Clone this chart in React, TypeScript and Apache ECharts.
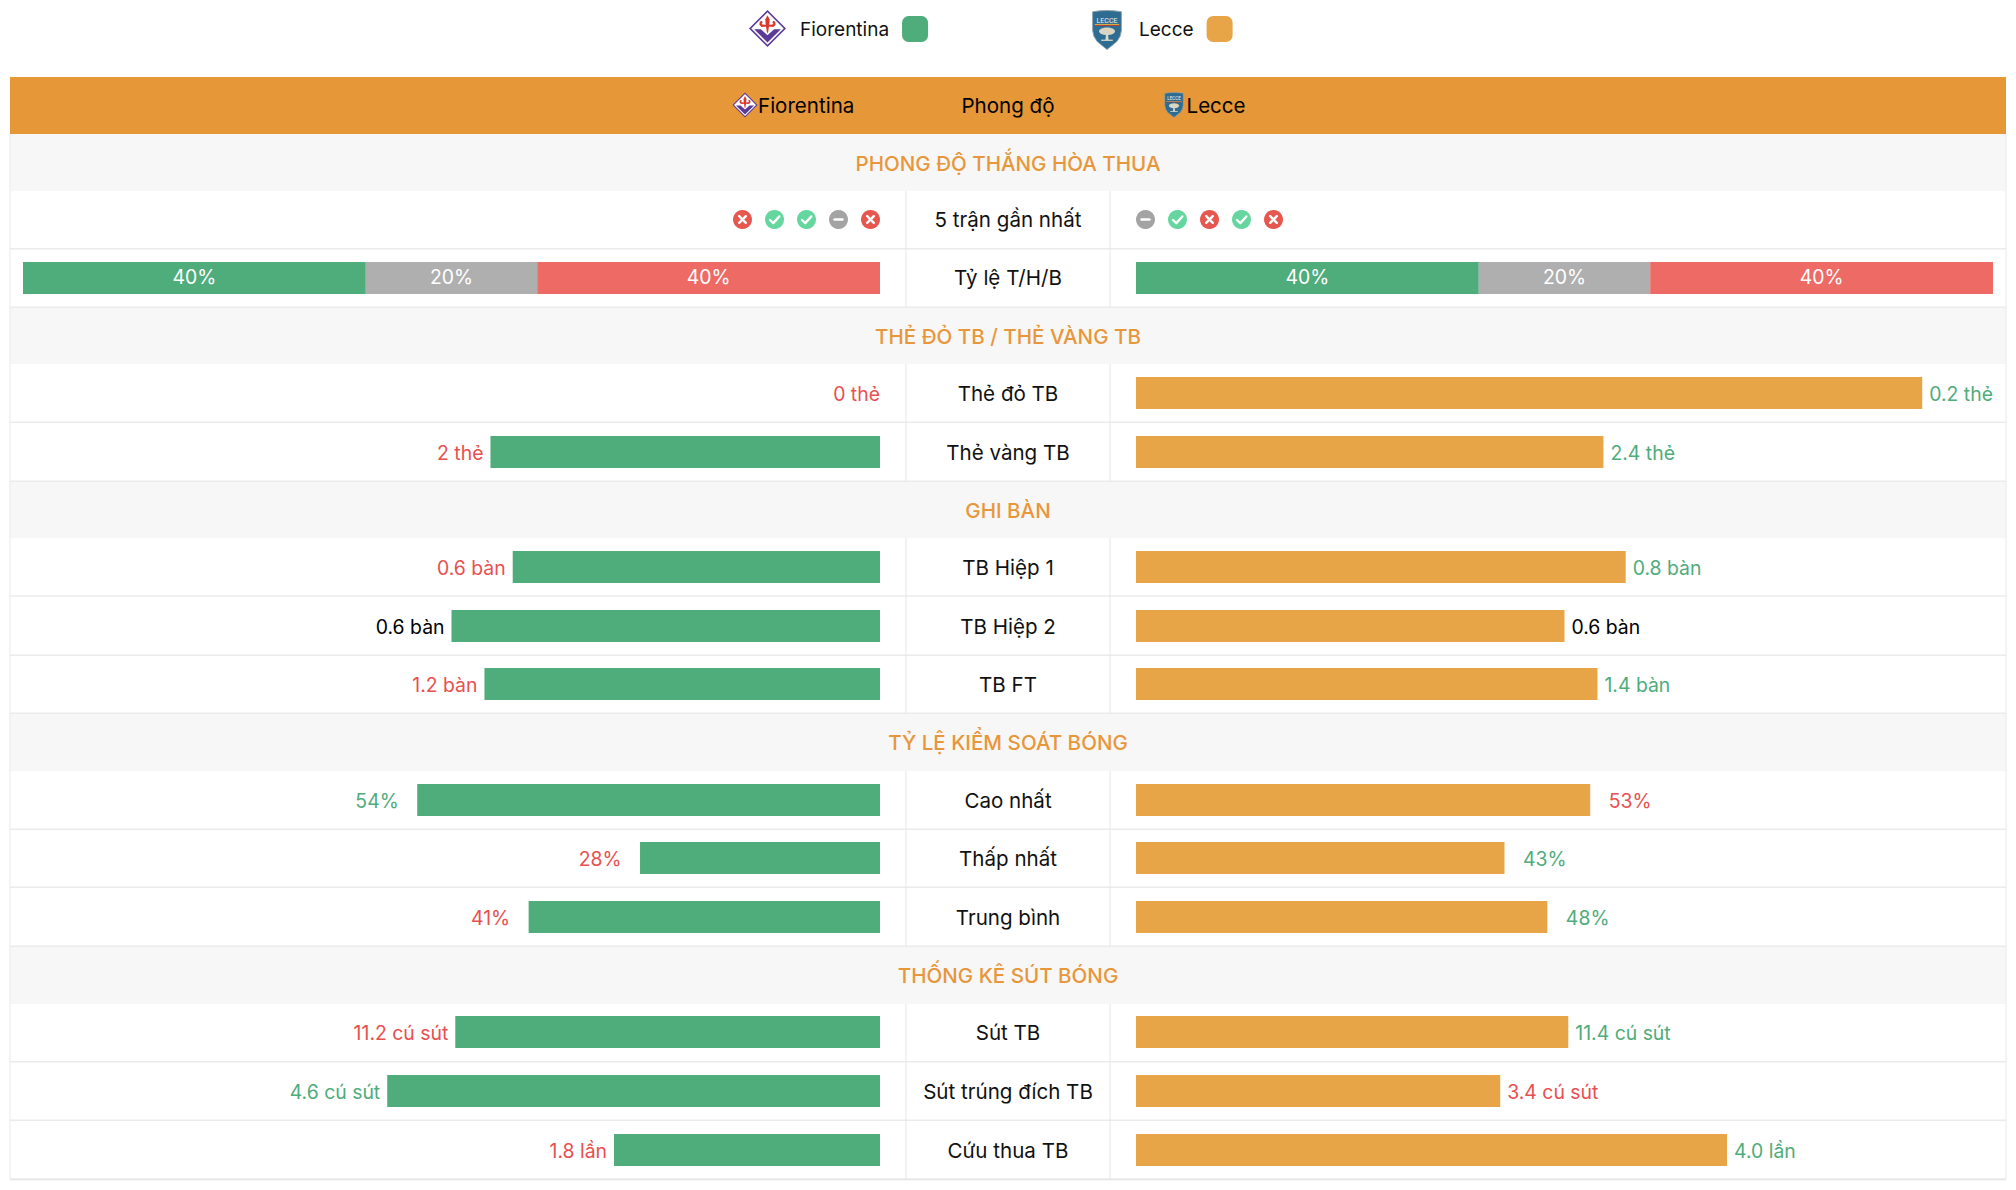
import React, { useEffect, useRef } from "react";
import * as echarts from "echarts";

const HOME = "Fiorentina";
const AWAY = "Lecce";
const FONT = "Inter";
const GREEN = "#4FAC7B";
const ORANGE = "#E8A548";
const TEXT_RED = "#E8504F";

const sectionTitles = ["PHONG ĐỘ THẮNG HÒA THUA", "THẺ ĐỎ TB / THẺ VÀNG TB", "GHI BÀN", "TỶ LỆ KIỂM SOÁT BÓNG", "THỐNG KÊ SÚT BÓNG"];
const formRowName = "5 trận gần nhất";
const ratioRowName = "Tỷ lệ T/H/B";
const homeForm = ["L", "W", "W", "D", "L"];
const awayForm = ["D", "W", "L", "W", "L"];
const homeRatio = [40, 20, 40];
const awayRatio = [40, 20, 40];
const ratioNames = ["Thắng", "Hòa", "Thua"];
const ratioColors = ["#4FAC7B", "#AFAFAF", "#EE6A65"];

const rowNames = ["Thẻ đỏ TB", "Thẻ vàng TB", "TB Hiệp 1", "TB Hiệp 2", "TB FT", "Cao nhất", "Thấp nhất", "Trung bình", "Sút TB", "Sút trúng đích TB", "Cứu thua TB"];
const homeValues = [0, 2, 0.6, 0.6, 1.2, 54, 28, 41, 11.2, 4.6, 1.8];
const awayValues = [0.2, 2.4, 0.8, 0.6, 1.4, 53, 43, 48, 11.4, 3.4, 4.0];
const axisTotals = [0.218, 4.4, 1.4, 1.2, 2.6, 100, 100, 100, 22.6, 8, 5.8];
const homeLabels = ["0 thẻ", "2 thẻ", "0.6 bàn", "0.6 bàn", "1.2 bàn", "54%", "28%", "41%", "11.2 cú sút", "4.6 cú sút", "1.8 lần"];
const awayLabels = ["0.2 thẻ", "2.4 thẻ", "0.8 bàn", "0.6 bàn", "1.4 bàn", "53%", "43%", "48%", "11.4 cú sút", "3.4 cú sút", "4.0 lần"];
const homeLabelColors = [TEXT_RED, TEXT_RED, TEXT_RED, "#000", TEXT_RED, GREEN, TEXT_RED, TEXT_RED, TEXT_RED, GREEN, TEXT_RED];
const awayLabelColors = [GREEN, GREEN, GREEN, "#000", GREEN, TEXT_RED, GREEN, GREEN, GREEN, TEXT_RED, GREEN];
const labelGaps = [7, 7, 7, 7, 7, 18.5, 18.5, 18.5, 7, 7, 7];

// layout (pixels)
const L_X = 23, R_X = 1136, BAR_W = 857, BAR_H = 32;
const CENTER = 1008;
const TBL_L = 10, TBL_R = 2006, COL_L = 906, COL_R = 1110;
const sectionSpans = [[134, 191], [307.3, 364], [481.3, 538], [713.3, 771], [946.3, 1004]];
const rowLines = [248.7, 307.3, 422.3, 481.3, 596, 655.3, 713.3, 829.3, 887.3, 946.3, 1061.7, 1120.3];
const ratioBarTop = 262;
const barTops = [377, 436, 551, 610, 668, 784, 842, 901, 1016, 1075, 1134];
const formY = 219.5;
const LABEL_SIZE = 19.4;
const TEXT_SIZE = 20.57;

function fiorentinaLogo(cx: number, cy: number, half: number) {
  const s = half / 50;
  const purple = "#5B3A96", red = "#D8392F";
  const mirror = (pts: number[][]) => pts.map(([x, y]) => [100 - x, y]);
  const sidePetal = [[43, 44], [34, 46], [28, 40], [29, 32], [34, 29], [37, 33], [34, 38], [38, 40], [43, 40]];
  return {
    type: "group", x: cx - half, y: cy - half, scaleX: s, scaleY: s,
    children: [
      { type: "polygon", shape: { points: [[50, 0], [100, 50], [50, 100], [0, 50]] }, style: { fill: purple } },
      { type: "polygon", shape: { points: [[50, 6], [94, 50], [50, 94], [6, 50]] }, style: { fill: "#fff" } },
      { type: "polygon", shape: { points: [[14, 52], [32, 52], [50, 68], [68, 52], [86, 52], [50, 88]] }, style: { fill: purple } },
      { type: "polygon", shape: { points: [[50, 14], [56, 26], [55, 38], [52, 58], [50, 64], [48, 58], [45, 38], [44, 26]] }, style: { fill: red } },
      { type: "rect", shape: { x: 36, y: 40, width: 28, height: 5 }, style: { fill: red } },
      { type: "polygon", shape: { points: sidePetal }, style: { fill: red } },
      { type: "polygon", shape: { points: mirror(sidePetal) }, style: { fill: red } },
    ],
  };
}

function lecceLogo(cx: number, cy: number, h: number) {
  const s = h / 122;
  const w = 90;
  const px = (f: number) => 50 + (f - 50) * (w / 100);
  const shield = [[0, 4], [25, 1], [50, 0], [75, 1], [100, 4], [100, 62], [96, 80], [85, 96], [68, 109], [50, 122], [32, 109], [15, 96], [4, 80], [0, 62]].map(([x, y]) => [px(x), y]);
  return {
    type: "group", x: cx - 50 * s, y: cy - h / 2, scaleX: s, scaleY: s,
    children: [
      { type: "polygon", shape: { points: shield }, style: { fill: "#2E6C92", stroke: "#8FA3AE", lineWidth: 3 } },
      { type: "text", x: 50, y: 31, style: { text: "LECCE", font: "22px Roboto", fill: "#F2F2EC", align: "center", verticalAlign: "middle" } },
      { type: "rect", shape: { x: 12, y: 42, width: 76, height: 3 }, style: { fill: "#E8C53A" } },
      { type: "rect", shape: { x: 12, y: 45, width: 76, height: 3 }, style: { fill: "#C8392F" } },
      { type: "ellipse", shape: { cx: 50, cy: 65, rx: 25, ry: 12 }, style: { fill: "#D9D5C2" } },
      { type: "polygon", shape: { points: [[47, 72], [53, 72], [55, 92], [45, 92]] }, style: { fill: "#DCD8C8" } },
      { type: "rect", shape: { x: 32, y: 91, width: 36, height: 4 }, style: { fill: "#DCD8C8" } },
    ],
  };
}

function centerText(text: string, y: number, extra: object = {}) {
  return { type: "text", x: CENTER, y, style: { text, font: `${TEXT_SIZE}px ${FONT}`, fill: "#111", align: "center", verticalAlign: "middle", ...extra } };
}

function buildGraphics() {
  const g: any[] = [];
  g.push({ type: "rect", shape: { x: TBL_L, y: 77, width: TBL_R - TBL_L, height: 57 }, style: { fill: "#E69737" } });
  sectionSpans.forEach(([a, b], i) => {
    g.push({ type: "rect", shape: { x: TBL_L, y: a, width: TBL_R - TBL_L, height: b - a }, style: { fill: "#F7F7F7" } });
    g.push(centerText(sectionTitles[i], (a + b) / 2 + 0.6, { font: `500 ${TEXT_SIZE}px ${FONT}`, fill: "#E8963A" }));
  });
  rowLines.forEach((y) => {
    g.push({ type: "rect", shape: { x: TBL_L, y: y - 0.7, width: TBL_R - TBL_L, height: 1.4 }, style: { fill: "#EBEBEB" } });
  });
  g.push({ type: "rect", shape: { x: TBL_L, y: 1178.5, width: TBL_R - TBL_L, height: 1.7 }, style: { fill: "#E4E4E4" } });
  g.push({ type: "rect", shape: { x: TBL_L - 0.5, y: 134, width: 1, height: 1045 }, style: { fill: "#EAEAEA" } });
  g.push({ type: "rect", shape: { x: TBL_R - 0.5, y: 134, width: 1, height: 1045 }, style: { fill: "#EAEAEA" } });
  const rowSpans = [[191, 307], [364, 481], [538, 713], [771, 946], [1004, 1178.5]];
  rowSpans.forEach(([a, b]) => {
    [COL_L, COL_R].forEach((x) => g.push({ type: "rect", shape: { x: x - 0.5, y: a, width: 1, height: b - a }, style: { fill: "#E6E6E6" } }));
  });
  // header band
  g.push(fiorentinaLogo(745, 105, 12.5));
  g.push(lecceLogo(1174, 105, 25));
  g.push({ type: "text", x: 758, y: 105.3, style: { text: HOME, font: `${TEXT_SIZE}px ${FONT}`, fill: "#000", align: "left", verticalAlign: "middle" } });
  g.push(centerText("Phong độ", 105.3, { fill: "#000" }));
  g.push({ type: "text", x: 1186.5, y: 105.3, style: { text: AWAY, font: `${TEXT_SIZE}px ${FONT}`, fill: "#000", align: "left", verticalAlign: "middle" } });
  // legend logos
  g.push(fiorentinaLogo(767.5, 28.5, 18.5));
  g.push(lecceLogo(1107, 30, 39));
  // row names
  g.push(centerText(formRowName, formY));
  g.push(centerText(ratioRowName, ratioBarTop + BAR_H / 2 - 0.4));
  rowNames.forEach((n, i) => g.push(centerText(n, barTops[i] + BAR_H / 2 + 0.4)));
  return g;
}

const formColor: Record<string, string> = { W: "#65D69E", L: "#E5574F", D: "#A3A3A3" };

function formSeries(results: string[], gridIdx: number) {
  return {
    type: "custom", xAxisIndex: gridIdx, yAxisIndex: gridIdx, silent: true, clip: false,
    data: results.map((_, i) => [i, 0]),
    encode: { x: 0, y: 1 },
    renderItem: (params: any, api: any) => {
      const p = api.coord([api.value(0), 0]);
      const [x, y] = p;
      const kind = results[params.dataIndex];
      const mark = { stroke: "#fff", lineWidth: 2.4, fill: "none", lineCap: "round", lineJoin: "round" };
      const children: any[] = [{ type: "circle", shape: { cx: x, cy: y, r: 9.5 }, style: { fill: formColor[kind] } }];
      if (kind === "W") children.push({ type: "polyline", shape: { points: [[x - 4.5, y + 0.5], [x - 1.2, y + 3.6], [x + 4.8, y - 3]] }, style: mark });
      if (kind === "L") {
        children.push({ type: "line", shape: { x1: x - 3.3, y1: y - 3.3, x2: x + 3.3, y2: y + 3.3 }, style: mark });
        children.push({ type: "line", shape: { x1: x + 3.3, y1: y - 3.3, x2: x - 3.3, y2: y + 3.3 }, style: mark });
      }
      if (kind === "D") children.push({ type: "line", shape: { x1: x - 4, y1: y, x2: x + 4, y2: y }, style: mark });
      return { type: "group", children };
    },
  };
}

function buildOption() {
  const grid: any[] = [], xAxis: any[] = [], yAxis: any[] = [], series: any[] = [];
  const addGrid = (left: number, top: number, width: number, height: number, x: any, y: any) => {
    grid.push({ left, top, width, height, containLabel: false });
    xAxis.push({ show: false, gridIndex: grid.length - 1, ...x });
    yAxis.push({ show: false, gridIndex: grid.length - 1, ...y });
    return grid.length - 1;
  };
  // form icons
  const formX = { type: "category", data: [0, 1, 2, 3, 4] };
  const formYAxis = { type: "value", min: -1, max: 1 };
  series.push(formSeries(homeForm, addGrid(726.5, formY - 16, 160, 32, formX, formYAxis)));
  series.push(formSeries(awayForm, addGrid(1129.5, formY - 16, 160, 32, formX, formYAxis)));
  // ratio bars
  [[L_X, homeRatio], [R_X, awayRatio]].forEach(([left, vals]: any) => {
    const idx = addGrid(left, ratioBarTop, BAR_W, BAR_H, { type: "value", min: 0, max: 100 }, { type: "category", data: [ratioRowName] });
    vals.forEach((v: number, i: number) => {
      series.push({
        type: "bar", name: ratioNames[i], stack: `r${idx}`, xAxisIndex: idx, yAxisIndex: idx, barWidth: BAR_H, silent: true,
        data: [v], itemStyle: { color: ratioColors[i] },
        label: { show: true, position: "inside", offset: [0, -1.5], formatter: `${v}%`, color: "#fff", fontFamily: FONT, fontSize: LABEL_SIZE },
      });
    });
  });
  // comparison rows
  rowNames.forEach((n, i) => {
    const hi = addGrid(L_X, barTops[i], BAR_W, BAR_H, { type: "value", min: 0, max: axisTotals[i], inverse: true }, { type: "category", data: [n] });
    series.push({
      type: "bar", name: HOME, xAxisIndex: hi, yAxisIndex: hi, barWidth: BAR_H, silent: true, data: [homeValues[i]], itemStyle: { color: GREEN },
      label: { show: true, position: "left", distance: homeValues[i] === 0 ? 0 : labelGaps[i], offset: [0, 0.5], formatter: homeLabels[i], color: homeLabelColors[i], fontFamily: FONT, fontSize: LABEL_SIZE },
    });
    const ai = addGrid(R_X, barTops[i], BAR_W, BAR_H, { type: "value", min: 0, max: axisTotals[i] }, { type: "category", data: [n] });
    series.push({
      type: "bar", name: AWAY, xAxisIndex: ai, yAxisIndex: ai, barWidth: BAR_H, silent: true, data: [awayValues[i]], itemStyle: { color: ORANGE },
      label: { show: true, position: "right", distance: labelGaps[i], offset: [0, 0.5], formatter: awayLabels[i], color: awayLabelColors[i], fontFamily: FONT, fontSize: LABEL_SIZE },
    });
  });
  const legendBase = { top: 16, orient: "horizontal", align: "right", icon: "roundRect", itemWidth: 26, itemHeight: 26, selectedMode: false, padding: 0,
    textStyle: { fontFamily: FONT, fontSize: 19, color: "#111", padding: [0, 8, 0, 0] } };
  return {
    animation: false,
    backgroundColor: "#fff",
    grid, xAxis, yAxis, series,
    legend: [
      { ...legendBase, left: 800, data: [HOME] },
      { ...legendBase, left: 1139, data: [AWAY] },
    ],
    graphic: buildGraphics(),
  };
}

export default function App() {
  const ref = useRef<HTMLDivElement>(null);
  useEffect(() => {
    const chart = echarts.init(ref.current!, undefined, { renderer: "svg" });
    chart.setOption(buildOption() as any);
    return () => chart.dispose();
  }, []);
  return <div ref={ref} style={{ position: "fixed", left: 0, top: 0, width: 2016, height: 1190 }} />;
}
